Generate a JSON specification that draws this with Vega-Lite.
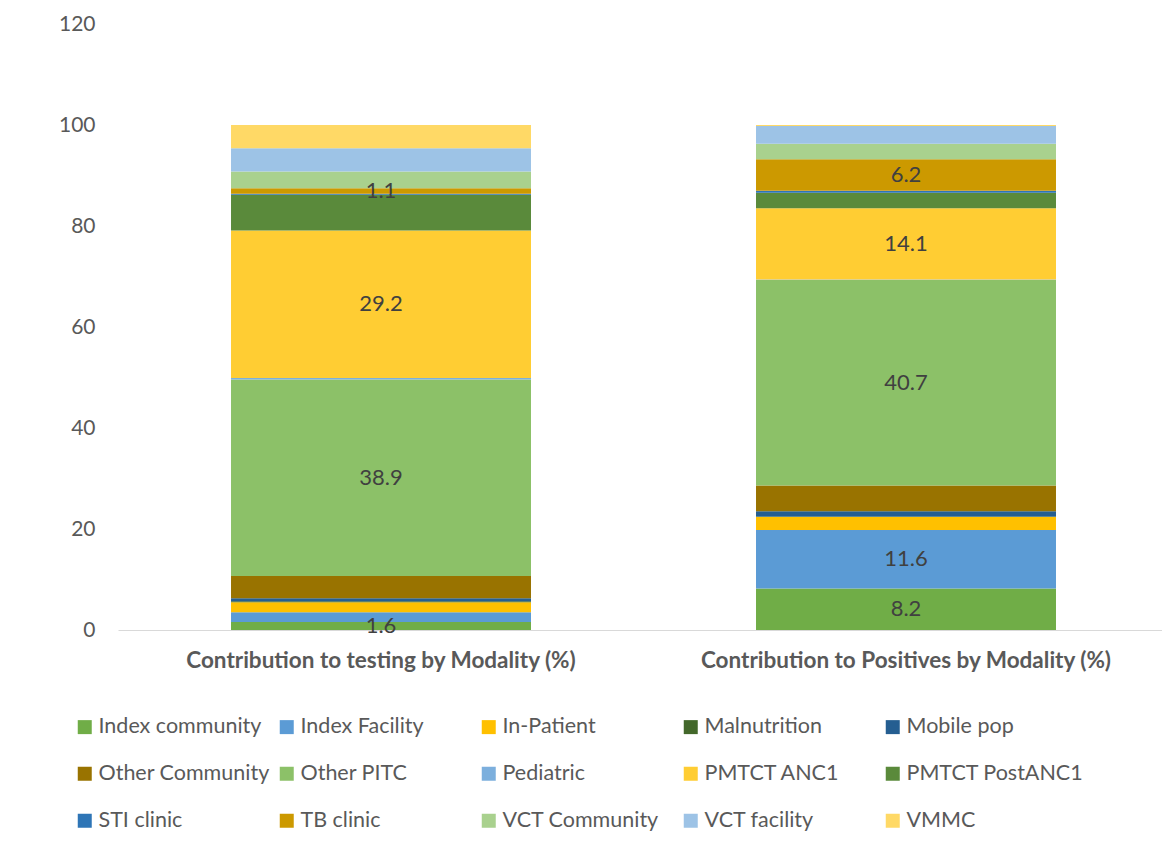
{
  "$schema": "https://vega.github.io/schema/vega-lite/v6.json",
  "autosize": {"type": "none"},
  "padding": {"left": 118, "top": 24, "right": 0, "bottom": 213},
  "width": 1044,
  "height": 606,
  "background": "white",
  "config": {
    "view": {"stroke": null},
    "font": "Lato"
  },
  "data": {
    "values": [
      {"category": "Contribution to testing by Modality (%)", "series": "Index community", "value": 1.6, "labeled": true},
      {"category": "Contribution to Positives by Modality (%)", "series": "Index community", "value": 8.2, "labeled": true},
      {"category": "Contribution to testing by Modality (%)", "series": "Index Facility", "value": 1.9, "labeled": false},
      {"category": "Contribution to Positives by Modality (%)", "series": "Index Facility", "value": 11.6, "labeled": true},
      {"category": "Contribution to testing by Modality (%)", "series": "In-Patient", "value": 2.0, "labeled": false},
      {"category": "Contribution to Positives by Modality (%)", "series": "In-Patient", "value": 2.6, "labeled": false},
      {"category": "Contribution to testing by Modality (%)", "series": "Malnutrition", "value": 0.2, "labeled": false},
      {"category": "Contribution to Positives by Modality (%)", "series": "Malnutrition", "value": 0.1, "labeled": false},
      {"category": "Contribution to testing by Modality (%)", "series": "Mobile pop", "value": 0.6, "labeled": false},
      {"category": "Contribution to Positives by Modality (%)", "series": "Mobile pop", "value": 1.0, "labeled": false},
      {"category": "Contribution to testing by Modality (%)", "series": "Other Community", "value": 4.4, "labeled": false},
      {"category": "Contribution to Positives by Modality (%)", "series": "Other Community", "value": 5.1, "labeled": false},
      {"category": "Contribution to testing by Modality (%)", "series": "Other PITC", "value": 38.9, "labeled": true},
      {"category": "Contribution to Positives by Modality (%)", "series": "Other PITC", "value": 40.7, "labeled": true},
      {"category": "Contribution to testing by Modality (%)", "series": "Pediatric", "value": 0.3, "labeled": false},
      {"category": "Contribution to Positives by Modality (%)", "series": "Pediatric", "value": 0.1, "labeled": false},
      {"category": "Contribution to testing by Modality (%)", "series": "PMTCT ANC1", "value": 29.2, "labeled": true},
      {"category": "Contribution to Positives by Modality (%)", "series": "PMTCT ANC1", "value": 14.1, "labeled": true},
      {"category": "Contribution to testing by Modality (%)", "series": "PMTCT PostANC1", "value": 7.1, "labeled": false},
      {"category": "Contribution to Positives by Modality (%)", "series": "PMTCT PostANC1", "value": 3.1, "labeled": false},
      {"category": "Contribution to testing by Modality (%)", "series": "STI clinic", "value": 0.2, "labeled": false},
      {"category": "Contribution to Positives by Modality (%)", "series": "STI clinic", "value": 0.4, "labeled": false},
      {"category": "Contribution to testing by Modality (%)", "series": "TB clinic", "value": 1.1, "labeled": true},
      {"category": "Contribution to Positives by Modality (%)", "series": "TB clinic", "value": 6.2, "labeled": true},
      {"category": "Contribution to testing by Modality (%)", "series": "VCT Community", "value": 3.3, "labeled": false},
      {"category": "Contribution to Positives by Modality (%)", "series": "VCT Community", "value": 3.1, "labeled": false},
      {"category": "Contribution to testing by Modality (%)", "series": "VCT facility", "value": 4.6, "labeled": false},
      {"category": "Contribution to Positives by Modality (%)", "series": "VCT facility", "value": 3.5, "labeled": false},
      {"category": "Contribution to testing by Modality (%)", "series": "VMMC", "value": 4.6, "labeled": false},
      {"category": "Contribution to Positives by Modality (%)", "series": "VMMC", "value": 0.2, "labeled": false}
    ]
  },
  "transform": [
    {"stack": "value", "groupby": ["category"], "as": ["y0", "y1"]}
  ],
  "encoding": {
    "x": {
      "field": "category",
      "type": "nominal",
      "sort": ["Contribution to testing by Modality (%)", "Contribution to Positives by Modality (%)"],
      "scale": {"paddingInner": 0.4286, "paddingOuter": 0.2086, "align": 0.516},
      "axis": {
        "title": null,
        "labelAngle": 0,
        "labelFont": "Lato",
        "labelFontSize": 22.5,
        "labelFontWeight": "bold",
        "labelColor": "#595959",
        "labelPadding": 19,
        "labelLimit": 700,
        "domainColor": "#D9D9D9",
        "domainWidth": 1,
        "ticks": false
      }
    }
  },
  "layer": [
    {
      "mark": {"type": "bar"},
      "encoding": {
        "y": {
          "field": "y1",
          "type": "quantitative",
          "scale": {"domain": [0, 120], "nice": false},
          "axis": {
            "title": null,
            "values": [0, 20, 40, 60, 80, 100, 120],
            "labelFont": "Lato",
            "labelFontSize": 21,
            "labelColor": "#595959",
            "labelPadding": 23,
            "domain": false,
            "ticks": false,
            "grid": false
          }
        },
        "y2": {"field": "y0"},
        "color": {
          "field": "series",
          "type": "nominal",
          "scale": {
            "domain": ["Index community", "Index Facility", "In-Patient", "Malnutrition", "Mobile pop", "Other Community", "Other PITC", "Pediatric", "PMTCT ANC1", "PMTCT PostANC1", "STI clinic", "TB clinic", "VCT Community", "VCT facility", "VMMC"],
            "range": ["#70AD47", "#5B9BD5", "#FFC000", "#43682B", "#255E91", "#997300", "#8CC168", "#7CAFDD", "#FFCD33", "#5A8A3B", "#2E75B6", "#CC9900", "#A9D18E", "#9DC3E6", "#FFD966"]
          },
          "legend": {
            "title": null,
            "orient": "none",
            "legendX": -44,
            "legendY": 692,
            "direction": "horizontal",
            "columns": 5,
            "gridAlign": "all",
            "columnPadding": 0,
            "rowPadding": 24,
            "symbolType": "square",
            "symbolSize": 196,
            "symbolStrokeWidth": 0,
            "labelFont": "Lato",
            "labelFontSize": 21.5,
            "labelColor": "#595959",
            "labelOffset": 3,
            "labelLimit": 400,
            "padding": 0
          }
        }
      }
    },
    {
      "transform": [
        {"filter": "datum.labeled"},
        {"fold": ["y0", "y1"], "as": ["end", "pos"]}
      ],
      "mark": {"type": "text", "font": "Lato", "fontSize": 22, "color": "#404040", "baseline": "middle"},
      "encoding": {
        "y": {"aggregate": "mean", "field": "pos", "type": "quantitative"},
        "text": {"field": "value", "type": "quantitative", "format": ".1f"},
        "detail": {"field": "series", "type": "nominal"}
      }
    }
  ]
}
